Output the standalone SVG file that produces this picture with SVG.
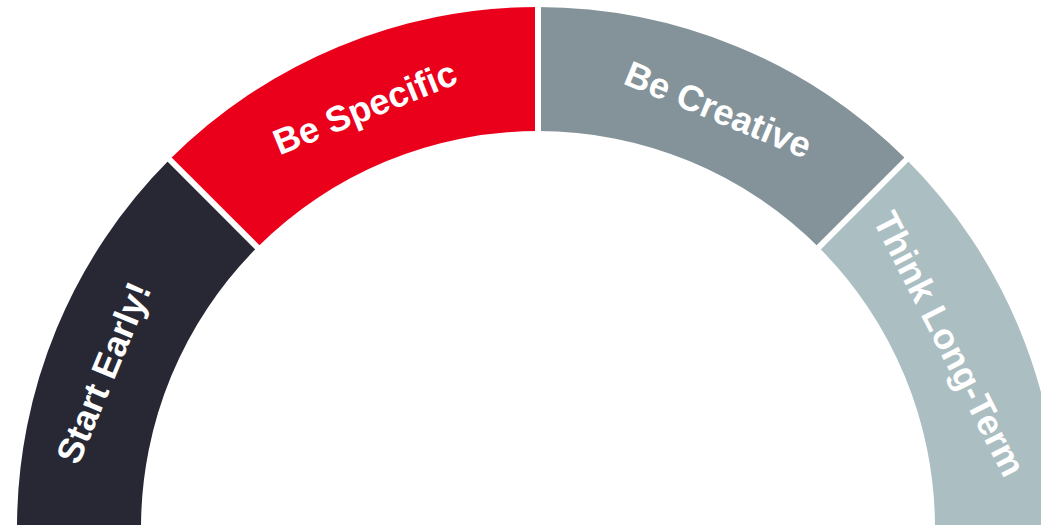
<svg xmlns="http://www.w3.org/2000/svg" width="1041" height="525" viewBox="0 0 1041 525">
  <style>
    .label { font-family: "Liberation Sans", Arial, sans-serif; font-weight: bold; font-size: 36px; fill: #ffffff; text-anchor: middle; }
    .divider { stroke: #ffffff; stroke-width: 6; fill: none; }
  </style>
  <rect width="1041" height="525" fill="#ffffff"/>

  <!-- Ring centred at (538,528): outer radius 521, inner radius 397 -->
  <g id="start-early">
    <path d="M17,528 A521,521 0 0 1 169.6,159.6 L257.3,247.3 A397,397 0 0 0 141,528 Z" fill="#272834"/>
    <g transform="translate(104,373) rotate(-67.5)">
      <text class="label" x="0" y="12">Start Early!</text>
    </g>
  </g>

  <g id="be-specific">
    <path d="M169.6,159.6 A521,521 0 0 1 538,7 L538,131 A397,397 0 0 0 257.3,247.3 Z" fill="#EB001B"/>
    <g transform="translate(365,108) rotate(-22)">
      <text class="label" x="0" y="12">Be Specific</text>
    </g>
  </g>

  <g id="be-creative">
    <path d="M538,7 A521,521 0 0 1 906.4,159.6 L818.7,247.3 A397,397 0 0 0 538,131 Z" fill="#84939A"/>
    <g transform="translate(718,110) rotate(22.5)">
      <text class="label" x="0" y="12">Be Creative</text>
    </g>
  </g>

  <g id="think-long-term">
    <path d="M906.4,159.6 A521,521 0 0 1 1059,528 L935,528 A397,397 0 0 0 818.7,247.3 Z" fill="#ABBEC2"/>
    <g transform="translate(949,344) rotate(63)">
      <text class="label" x="0" y="12">Think Long-Term</text>
    </g>
  </g>

  <!-- White gaps between the segments -->
  <g id="connectors">
    <line class="divider" x1="264" y1="254" x2="160" y2="150"/>
    <line class="divider" x1="538" y1="140" x2="538" y2="0"/>
    <line class="divider" x1="812" y1="254" x2="916" y2="150"/>
  </g>
</svg>
